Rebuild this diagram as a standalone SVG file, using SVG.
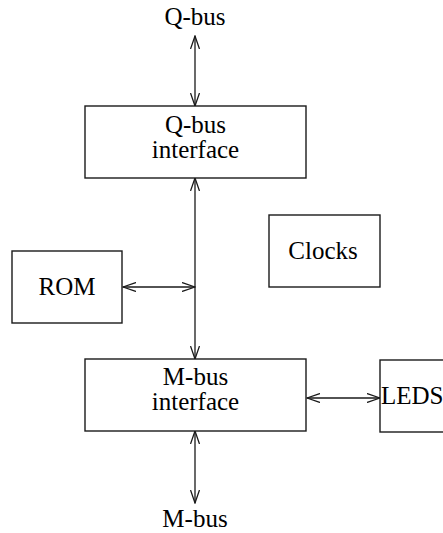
<svg xmlns="http://www.w3.org/2000/svg" width="443" height="533" viewBox="0 0 443 533">
<style>
.box{fill:#fff;stroke:#1a1a1a;stroke-width:1.4}
.t{font-family:"Liberation Serif","Times New Roman",serif;font-size:25px;fill:#000}
.c{text-anchor:middle}
.ln{stroke:#1a1a1a;stroke-width:1.3;fill:none;marker-start:url(#ah);marker-end:url(#ah)}
</style>
<defs>
<marker id="ah" viewBox="0 0 14 10" refX="13" refY="5" markerWidth="14" markerHeight="10" markerUnits="userSpaceOnUse" orient="auto-start-reverse">
<path d="M0,0.5 L13,5 L0,9.5" fill="none" stroke="#1a1a1a" stroke-width="1.3"/>
</marker>
</defs>
<rect width="443" height="533" fill="#fff"/>
<g id="connectors">
<line class="ln" x1="195" y1="36" x2="195" y2="106"/>
<line class="ln" x1="195" y1="178" x2="195" y2="359"/>
<line class="ln" x1="123" y1="287" x2="195" y2="287"/>
<line class="ln" x1="307" y1="398" x2="380" y2="398"/>
<line class="ln" x1="195" y1="431" x2="195" y2="503"/>
</g>
<g id="qbus-label"><text class="t c" x="195" y="25">Q-bus</text></g>
<g id="qbus-interface">
<rect class="box" x="85" y="106" width="221" height="72"/>
<text class="t c" x="195.5" y="133">Q-bus</text>
<text class="t c" x="195.5" y="158">interface</text>
</g>
<g id="rom">
<rect class="box" x="12" y="251" width="110" height="72"/>
<text class="t c" x="67" y="295">ROM</text>
</g>
<g id="clocks">
<rect class="box" x="269" y="215" width="111" height="72"/>
<text class="t c" x="323" y="259">Clocks</text>
</g>
<g id="mbus-interface">
<rect class="box" x="85" y="359" width="221" height="72"/>
<text class="t c" x="195.5" y="385">M-bus</text>
<text class="t c" x="195.5" y="410">interface</text>
</g>
<g id="leds">
<rect class="box" x="380" y="360" width="80" height="72"/>
<text class="t" x="381" y="404">LEDS</text>
</g>
<g id="mbus-label"><text class="t c" x="195" y="527">M-bus</text></g>
</svg>
